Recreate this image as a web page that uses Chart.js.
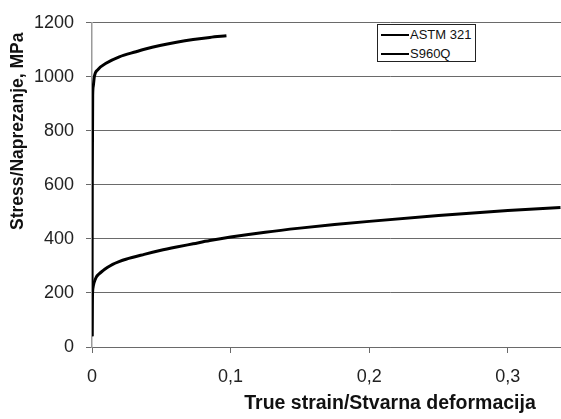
<!DOCTYPE html>
<html>
<head>
<meta charset="utf-8">
<script src="https://cdn.jsdelivr.net/npm/chart.js@4/dist/chart.umd.min.js"></script>
<style>
  html, body { margin: 0; padding: 0; background: #fff; overflow: hidden; }
  #wrap { position: relative; width: 561px; height: 419px; overflow: hidden; }
  canvas { position: absolute; left: 0; top: 0; }
  #legend { position: absolute; left: 377px; top: 24px; width: 99px; height: 38px;
    border: 1px solid #222; background: #fff; font-family: "Liberation Sans", Arial, sans-serif;
    font-size: 13px; color: #111; box-sizing: border-box; }
  .row { position: absolute; left: 3px; height: 14px; line-height: 14px; white-space: nowrap; }
  .swatch { display: inline-block; width: 28px; height: 0; border-top: 2.5px solid #000; vertical-align: middle; margin-right: 1px; position: relative; top: -1px; }
</style>
</head>
<body>
<div id="wrap">
  <canvas id="c" width="688" height="419"></canvas>
  <div id="legend"></div>
</div>
<script>
// ---- data ----
const seriesNames = ['ASTM 321', 'S960Q'];

const astmStrain = [0, 0.0002, 0.0004, 0.0008, 0.0015, 0.0029, 0.005, 0.0077, 0.011, 0.0149, 0.0195, 0.0245, 0.0377, 0.049, 0.061, 0.073, 0.085, 0.10, 0.125, 0.15, 0.175, 0.20, 0.25, 0.30, 0.338];
const astmStress = [40, 150, 200, 222, 238, 257, 270, 282, 294, 306, 316, 325, 343, 357, 370, 382, 394, 407, 425, 440, 453, 465, 487, 505, 516];

const s960Strain = [0, 0.0002, 0.0005, 0.0009, 0.0017, 0.0041, 0.0101, 0.0197, 0.0318, 0.0378, 0.049, 0.061, 0.073, 0.085, 0.097];
const s960Stress = [40, 600, 930, 965, 1001, 1026, 1050, 1074, 1093, 1102, 1116, 1128, 1138, 1146, 1152];

const xTickLabels = ['0', '0,1', '0,2', '0,3', '0,4'];
const yTickLabels = ['0', '200', '400', '600', '800', '1000', '1200'];

const xTitle = 'True strain/Stvarna deformacija';
const yTitle = 'Stress/Naprezanje, MPa';

// ---- build ----
function pts(xs, ys) { return xs.map((x, i) => ({ x: x, y: ys[i] })); }

const legend = document.getElementById('legend');
seriesNames.forEach((n, i) => {
  const r = document.createElement('div');
  r.className = 'row';
  r.style.top = (i === 0 ? 3 : 22) + 'px';
  r.innerHTML = '<span class="swatch"></span>' + n;
  legend.appendChild(r);
});

const gridColor = '#6a6a6a';
new Chart(document.getElementById('c'), {
  type: 'line',
  data: {
    datasets: [
      { label: seriesNames[0], data: pts(astmStrain, astmStress), borderColor: '#000', borderWidth: 3,
        pointRadius: 0, cubicInterpolationMode: 'monotone', fill: false },
      { label: seriesNames[1], data: pts(s960Strain, s960Stress), borderColor: '#000', borderWidth: 3,
        pointRadius: 0, cubicInterpolationMode: 'monotone', fill: false }
    ]
  },
  options: {
    responsive: false,
    animation: false,
    devicePixelRatio: 1,
    layout: { padding: { top: 19, left: 0, right: 0, bottom: 0 } },
    plugins: { legend: { display: false }, tooltip: { enabled: false } },
    scales: {
      x: {
        type: 'linear', min: 0, max: 0.43,
        afterFit: s => { s.height = 72; },
        grid: { drawOnChartArea: false, drawTicks: true, tickLength: 6, color: gridColor },
        border: { display: true, color: gridColor, width: 1 },
        ticks: { stepSize: 0.1, includeBounds: false, padding: 13, color: '#222',
          font: { family: 'Liberation Sans', size: 18 },
          callback: (v) => { const i = Math.round(v * 10); return xTickLabels[i] !== undefined ? xTickLabels[i] : ''; } },
        title: { display: true, text: xTitle, color: '#111',
          font: { family: 'Liberation Sans', size: 19.5, weight: 'bold' }, padding: { top: 4, bottom: 4 } }
      },
      y: {
        min: 0, max: 1200,
        afterFit: s => { s.width = 92; },
        grid: { drawOnChartArea: true, drawTicks: true, tickLength: 6, color: gridColor },
        border: { display: true, color: '#9a9a9a', width: 1.5 },
        ticks: { stepSize: 200, padding: 12, color: '#222',
          font: { family: 'Liberation Sans', size: 18 },
          callback: (v) => { const i = Math.round(v / 200); return yTickLabels[i] !== undefined ? yTickLabels[i] : ''; } },
        title: { display: true, text: yTitle + '\u00a0\u00a0', align: 'end', color: '#111',
          font: { family: 'Liberation Sans', size: 17.5, weight: 'bold' }, padding: { top: 8, bottom: 0 } }
      }
    }
  }
});
</script>
</body>
</html>
